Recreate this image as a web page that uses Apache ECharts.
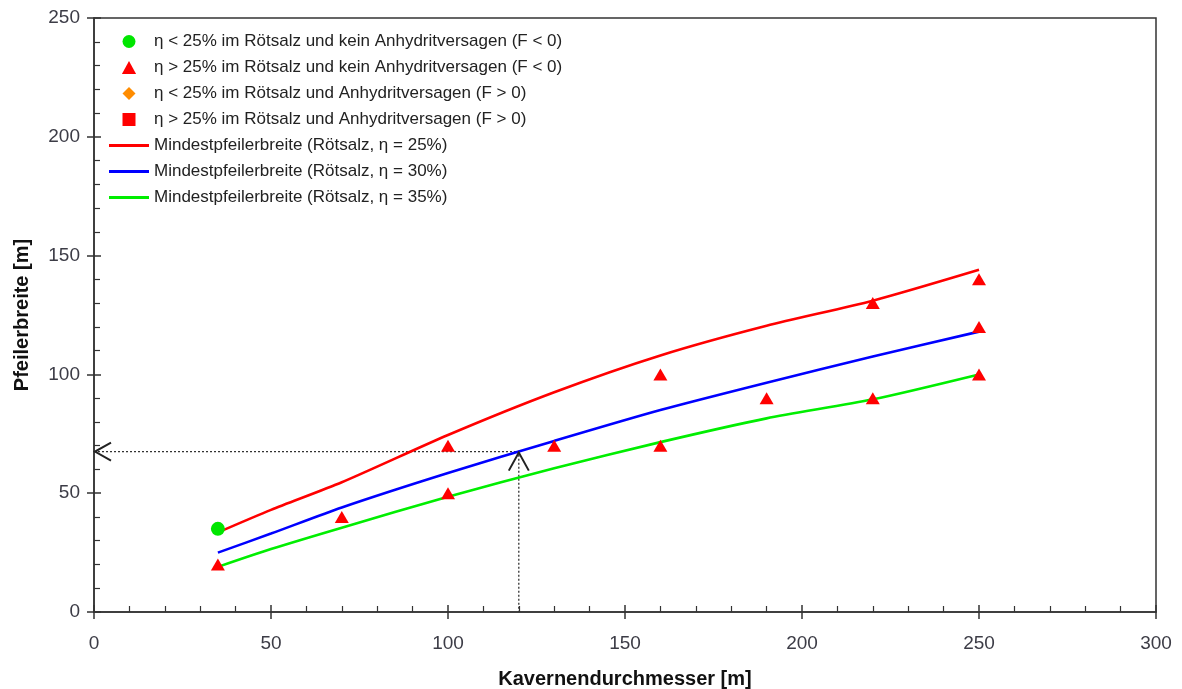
<!DOCTYPE html>
<html><head><meta charset="utf-8">
<script src="https://cdn.jsdelivr.net/npm/echarts@6/dist/echarts.min.js"></script>
<style>html,body{margin:0;padding:0;background:#fff}#c{width:1182px;height:689px}</style>
</head><body><div id="c"></div>
<script>
const xMin = 0, xMax = 300, xStep = 50;
const yMin = 0, yMax = 250, yStep = 50;
const xTitle = 'Kavernendurchmesser [m]';
const yTitle = 'Pfeilerbreite [m]';

const names = [
  'η < 25% im Rötsalz und kein Anhydritversagen (F < 0)',
  'η > 25% im Rötsalz und kein Anhydritversagen (F < 0)',
  'η < 25% im Rötsalz und Anhydritversagen (F > 0)',
  'η > 25% im Rötsalz und Anhydritversagen (F > 0)',
  'Mindestpfeilerbreite (Rötsalz, η = 25%)',
  'Mindestpfeilerbreite (Rötsalz, η = 30%)',
  'Mindestpfeilerbreite (Rötsalz, η = 35%)'
];

const circlePts = [[35, 35]];
const trianglePts = [[35, 20], [70, 40], [100, 70], [100, 50], [130, 70], [160, 100], [160, 70],
  [190, 90], [220, 130], [220, 90], [250, 140], [250, 120], [250, 100]];
const diamondPts = [];
const squarePts = [];

const lineX = [35, 50, 70, 100, 130, 160, 190, 220, 250];
const line25 = [33.5, 43, 54.6, 74.5, 92.5, 108, 120.5, 131, 144];
const line30 = [25, 33, 44, 58.5, 72, 85, 96.5, 107.5, 118];
const line35 = [19, 26.5, 35.5, 48.5, 60.5, 71.5, 81.5, 89.5, 100];

const guidePath = [[0, 67.5], [120, 67.5], [120, 0]];
const arrowTips = [[0, 67.5, 'left'], [120, 67.5, 'up']];

const zip = (xs, ys) => xs.map((x, i) => [x, ys[i]]);
const axisColor = '#333';
const font = 'Liberation Sans, Arial, sans-serif';
const labelStyle = { color: '#3c3c46', fontSize: 19, fontFamily: font };
const nameStyle = { color: '#111', fontSize: 20, fontWeight: 'bold', fontFamily: font };

const icons = [
  'circle',
  'path://M6,0L12,11L0,11Z',
  'path://M5,0L10,5L5,10L0,5Z',
  'path://M0,0H10V10H0Z',
  'path://M0,0H40V3H0Z',
  'path://M0,0H40V3H0Z',
  'path://M0,0H40V3H0Z'
];

const chart = echarts.init(document.getElementById('c'), null, { renderer: 'canvas' });
chart.setOption({
  animation: false,
  backgroundColor: '#fff',
  grid: { left: 94, right: 26, top: 18, bottom: 77, containLabel: false, outerBoundsMode: 'none',
    show: true, borderColor: axisColor, borderWidth: 1.5 },
  legend: {
    orient: 'vertical', left: 104, top: 28, itemWidth: 40, itemHeight: 13, itemGap: 9,
    symbolKeepAspect: true,
    data: names.map((n, i) => ({ name: n, icon: icons[i] })),
    textStyle: { color: '#222', fontSize: 17, fontFamily: font }
  },
  xAxis: [
    { type: 'value', min: xMin, max: xMax, interval: xStep, position: 'bottom',
      name: xTitle, nameLocation: 'middle', nameGap: 57, nameTextStyle: nameStyle,
      axisLine: { show: true, lineStyle: { color: axisColor, width: 1.5 } },
      axisTick: { show: true, inside: false, length: 7, lineStyle: { color: axisColor, width: 1.5 } },
      axisLabel: Object.assign({ margin: 22 }, labelStyle),
      splitLine: { show: false } },
    { type: 'value', min: xMin, max: xMax, interval: xStep, position: 'bottom',
      axisLine: { show: false },
      axisTick: { show: true, inside: true, length: 7, lineStyle: { color: axisColor, width: 1.5 } },
      minorTick: { show: true, splitNumber: 5, length: 6, lineStyle: { color: axisColor, width: 1.2 } },
      axisLabel: { show: false }, splitLine: { show: false } }
  ],
  yAxis: [
    { type: 'value', min: yMin, max: yMax, interval: yStep, position: 'left',
      name: yTitle, nameLocation: 'middle', nameGap: 62, nameTextStyle: nameStyle,
      axisLine: { show: true, lineStyle: { color: axisColor, width: 1.5 } },
      axisTick: { show: true, inside: false, length: 7, lineStyle: { color: axisColor, width: 1.5 } },
      axisLabel: Object.assign({ margin: 14 }, labelStyle),
      splitLine: { show: false } },
    { type: 'value', min: yMin, max: yMax, interval: yStep, position: 'left',
      axisLine: { show: false },
      axisTick: { show: true, inside: true, length: 7, lineStyle: { color: axisColor, width: 1.5 } },
      minorTick: { show: true, splitNumber: 5, length: 6, lineStyle: { color: axisColor, width: 1.2 } },
      axisLabel: { show: false }, splitLine: { show: false } }
  ],
  series: [
    { name: 'guide', type: 'line', data: guidePath, symbol: 'none', silent: true, z: 1,
      lineStyle: { color: '#333', width: 1.3, type: [2, 2] } },
    { name: 'arrows', type: 'custom', data: arrowTips, silent: true, z: 3,
      renderItem: function (params, api) {
        const p = api.coord([api.value(0), api.value(1)]);
        const dir = arrowTips[params.dataIndex][2];
        const pts = dir === 'left'
          ? [[p[0] + 17, p[1] - 9], [p[0] + 1, p[1]], [p[0] + 17, p[1] + 9]]
          : [[p[0] - 10, p[1] + 19], [p[0], p[1] + 1], [p[0] + 10, p[1] + 19]];
        return { type: 'polyline', shape: { points: pts }, style: { stroke: '#222', lineWidth: 2, fill: 'none' } };
      } },
    { name: names[4], type: 'line', data: zip(lineX, line25), symbol: 'none', smooth: 0.25, z: 2,
      lineStyle: { color: '#ff0000', width: 2.6 }, itemStyle: { color: '#ff0000' } },
    { name: names[5], type: 'line', data: zip(lineX, line30), symbol: 'none', smooth: 0.25, z: 2,
      lineStyle: { color: '#0000ff', width: 2.6 }, itemStyle: { color: '#0000ff' } },
    { name: names[6], type: 'line', data: zip(lineX, line35), symbol: 'none', smooth: 0.25, z: 2,
      lineStyle: { color: '#00ee00', width: 2.6 }, itemStyle: { color: '#00ee00' } },
    { name: names[0], type: 'scatter', data: circlePts, symbol: 'circle', symbolSize: 14, z: 4,
      itemStyle: { color: '#00e600', opacity: 1 } },
    { name: names[1], type: 'scatter', data: trianglePts, symbol: 'triangle', symbolSize: [14, 12], z: 4,
      itemStyle: { color: '#ff0000', opacity: 1 } },
    { name: names[2], type: 'scatter', data: diamondPts, symbol: 'diamond', symbolSize: 11, z: 4,
      itemStyle: { color: '#ff8c00', opacity: 1 } },
    { name: names[3], type: 'scatter', data: squarePts, symbol: 'rect', symbolSize: 14, z: 4,
      itemStyle: { color: '#ff0000', opacity: 1 } }
  ]
});
</script></body></html>
